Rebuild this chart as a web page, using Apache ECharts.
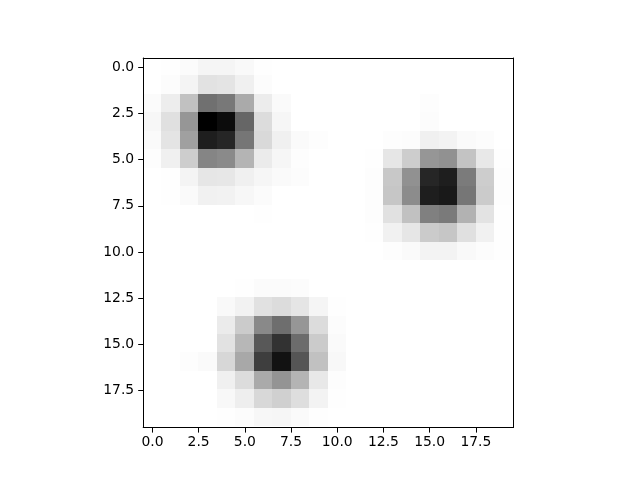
<!DOCTYPE html>
<html>
<head>
<meta charset="utf-8">
<style>html, body { margin: 0; background: #fff; }</style>
<script src="https://cdn.jsdelivr.net/npm/echarts@6/dist/echarts.min.js"></script>
</head>
<body>
<div id="chart" style="width: 640px; height: 480px;"></div>
<script>
// darkness of each cell, 0 = white, 255 = black, one list per image row
const row0  = [0,1,4,10,10,6,1,0,0,0,0,0,0,0,0,0,0,0,0,0];
const row1  = [0,3,11,29,27,15,3,0,0,0,0,0,0,0,0,0,0,0,0,0];
const row2  = [4,18,62,143,135,85,19,5,0,0,0,0,0,0,0,2,0,0,0,0];
const row3  = [8,31,105,255,243,153,35,9,0,0,0,0,0,0,0,3,0,0,0,0];
const row4  = [5,27,95,225,217,137,38,15,5,2,0,0,0,2,3,15,12,5,3,0];
const row5  = [2,15,50,122,117,75,20,9,2,0,0,0,1,25,50,105,110,60,23,1];
const row6  = [0,1,11,25,24,15,9,5,3,0,0,0,2,55,110,217,225,132,50,2];
const row7  = [0,1,5,14,13,8,4,0,0,0,0,0,2,57,115,225,230,137,52,2];
const row8  = [0,0,0,0,0,0,1,0,0,0,0,0,2,30,62,127,133,77,28,1];
const row9  = [0,0,0,0,0,0,0,0,0,0,0,0,1,14,25,52,57,31,14,1];
const row10 = [0,0,0,0,0,0,0,0,0,0,0,0,0,2,5,12,12,6,3,1];
const row11 = [0,0,0,0,0,0,0,0,0,0,0,0,0,0,0,0,0,0,0,0];
const row12 = [0,0,0,0,0,1,4,4,3,0,0,0,0,0,0,0,0,0,0,0];
const row13 = [0,0,0,0,6,13,30,35,26,10,1,0,0,0,0,0,0,0,0,0];
const row14 = [0,0,0,0,20,52,118,145,105,35,3,0,0,0,0,0,0,0,0,0];
const row15 = [0,0,0,0,29,72,167,205,147,52,5,0,0,0,0,0,0,0,0,0];
const row16 = [0,0,2,5,40,87,193,237,170,62,7,0,0,0,0,0,0,0,0,0];
const row17 = [0,0,0,0,15,35,85,107,75,23,2,0,0,0,0,0,0,0,0,0];
const row18 = [0,0,0,0,7,17,39,47,33,12,1,0,0,0,0,0,0,0,0,0];
const row19 = [0,0,0,0,1,3,8,9,5,1,0,0,0,0,0,0,0,0,0,0];
const rows = [row0,row1,row2,row3,row4,row5,row6,row7,row8,row9,row10,
    row11,row12,row13,row14,row15,row16,row17,row18,row19];

const xTicks = [0, 2.5, 5, 7.5, 10, 12.5, 15, 17.5];
const yTicks = [0, 2.5, 5, 7.5, 10, 12.5, 15, 17.5];

const cells = [];
rows.forEach((row, y) => {
    row.forEach((v, x) => {
        if (v > 0) cells.push([x, y, v]);
    });
});

const textStyle = { color: '#000', fontFamily: 'DejaVu Sans', fontSize: 13.9 };
const line = { show: true, onZero: false, lineStyle: { color: '#000', width: 1 } };

function mainAxis(position, ticks, inverse, margin, padding) {
    return {
        type: 'value', position: position, min: -0.5, max: 19.5, inverse: inverse, z: 5,
        axisLine: line,
        axisTick: { show: true, length: 5, customValues: ticks, lineStyle: { color: '#000', width: 1 } },
        axisLabel: {
            show: true, margin: margin, padding: padding, customValues: ticks,
            formatter: (v) => v.toFixed(1),
            ...textStyle
        },
        splitLine: { show: false }
    };
}

// top and right spines only
function spine(position, inverse) {
    return {
        type: 'value', position: position, min: -0.5, max: 19.5, inverse: inverse, z: 5,
        axisLine: line,
        axisTick: { show: false },
        axisLabel: { show: false },
        splitLine: { show: false }
    };
}

const chart = echarts.init(document.getElementById('chart'), null, { renderer: 'canvas' });
chart.setOption({
    animation: false,
    backgroundColor: '#fff',
    grid: { left: 143.2, top: 58, width: 369.6, height: 369.6 },
    xAxis: [mainAxis('bottom', xTicks, false, 8, 0), spine('top', false)],
    yAxis: [mainAxis('left', yTicks, true, 9, [2, 0, 0, 0]), spine('right', true)],
    series: [{
        type: 'custom',
        coordinateSystem: 'cartesian2d',
        encode: { x: 0, y: 1 },
        data: cells,
        renderItem: (params, api) => {
            const a = api.coord([api.value(0) - 0.5, api.value(1) - 0.5]);
            const b = api.coord([api.value(0) + 0.5, api.value(1) + 0.5]);
            // the reference image sits about a pixel above its ticks
            const x0 = Math.round(a[0] - 0.3), x1 = Math.round(b[0] - 0.3);
            const y0 = Math.max(Math.round(a[1] - 1.2), params.coordSys.y);
            const y1 = Math.round(b[1] - 1.2);
            const g = 255 - api.value(2);
            return {
                type: 'rect',
                shape: { x: x0, y: y0, width: x1 - x0, height: y1 - y0 },
                style: { fill: `rgb(${g},${g},${g})` }
            };
        }
    }]
});
</script>
</body>
</html>
